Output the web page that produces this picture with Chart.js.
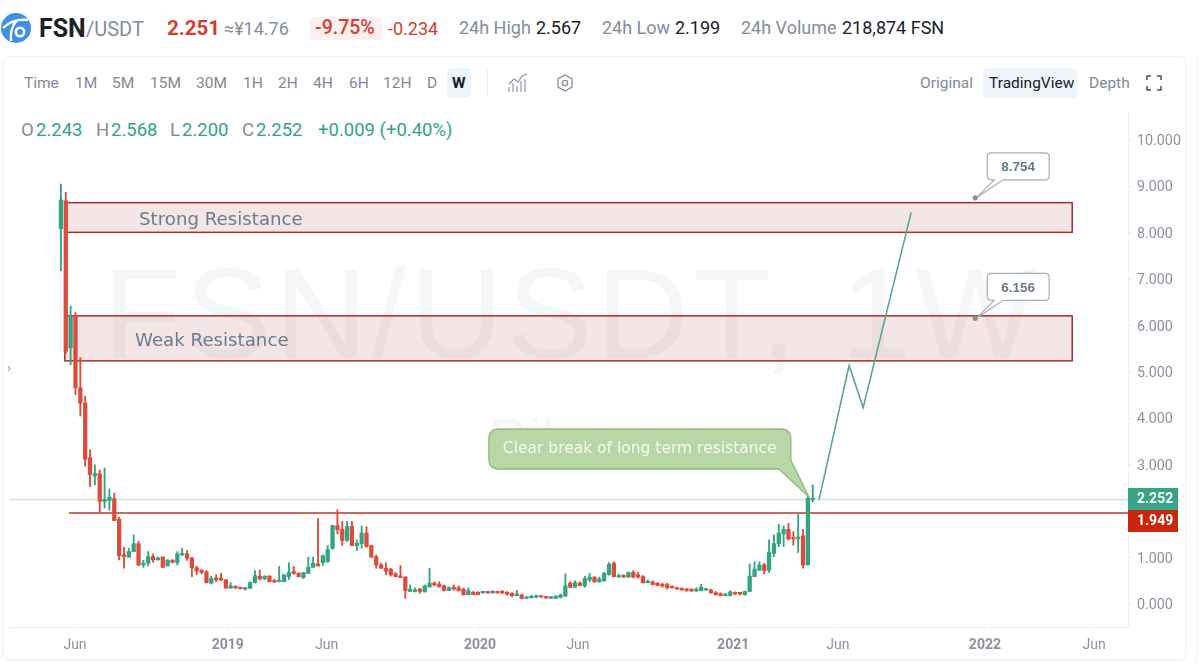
<!DOCTYPE html>
<html lang="en">
<head>
<meta charset="utf-8">
<title>FSN/USDT 1W</title>
<script src="https://cdn.jsdelivr.net/npm/chart.js@4/dist/chart.umd.min.js"></script>
<style>
  html,body{margin:0;padding:0;background:#fff;width:1200px;height:671px;overflow:hidden;font-family:Roboto,"Noto Sans",sans-serif}
  .panel{position:absolute;left:3px;top:56px;width:1183px;height:604px;border:1px solid #eff1f4;border-radius:6px;box-sizing:border-box;box-shadow:0 1px 3px rgba(40,60,90,.05)}
  .edge{position:absolute;left:1196px;top:56px;width:4px;height:604px;border-left:1px solid #eff1f4;background:#fff}
  .t{position:absolute;white-space:nowrap;transform:translateY(-50%);line-height:1}
  .g{color:#838e9b}.k{color:#1b2129}.r{color:#d63c30}.u{color:#33a382}
  .h{font-size:18px}.b{font-size:15.5px;color:#7f8995}.o{font-size:18.5px}
  .on{position:absolute;background:#eff4fb;border-radius:4px}
  #chart{position:absolute;left:0;top:0;z-index:2}
  svg{position:absolute}
</style>
</head>
<body>
<div class="panel"></div><div class="edge"></div>

<svg style="left:1px;top:13px" width="30" height="30" viewBox="0 0 30 30">
  <circle cx="15" cy="15" r="15" fill="#3f8fe2"/>
  <path d="M2 15C8 9 17 6 27 7M16 7C11 13 9 20 10 28" stroke="#fff" stroke-width="2.4" fill="none"/>
  <circle cx="19" cy="19" r="4.2" fill="#3f8fe2" stroke="#fff" stroke-width="2.6"/>
</svg>
<span class="t k" style="left:39px;top:28px;font-size:25px;font-weight:700">FSN</span>
<span class="t g" style="left:86px;top:29px;font-size:20px">/USDT</span>
<span class="t r" style="left:167px;top:28px;font-size:20.5px;font-weight:700">2.251</span>
<span class="t g h" style="left:224px;top:29px">≈¥14.76</span>
<div class="on" style="left:310px;top:17px;width:72px;height:23px;background:#fbf0ef"></div>
<span class="t r" style="left:315px;top:28px;font-size:19.5px;font-weight:500">-9.75%</span>
<span class="t r h" style="left:388px;top:29px">-0.234</span>
<span class="t g h" style="left:459px;top:28px">24h High</span>
<span class="t k h" style="left:536px;top:28px">2.567</span>
<span class="t g h" style="left:602px;top:28px">24h Low</span>
<span class="t k h" style="left:675px;top:28px">2.199</span>
<span class="t g h" style="left:741px;top:28px">24h Volume</span>
<span class="t k h" style="left:842px;top:28px">218,874 FSN</span>

<span class="t b" style="left:24px;top:84px">Time</span>
<span class="t b" style="left:75px;top:84px">1M</span>
<span class="t b" style="left:112px;top:84px">5M</span>
<span class="t b" style="left:150px;top:84px">15M</span>
<span class="t b" style="left:196px;top:84px">30M</span>
<span class="t b" style="left:243px;top:84px">1H</span>
<span class="t b" style="left:278px;top:84px">2H</span>
<span class="t b" style="left:313px;top:84px">4H</span>
<span class="t b" style="left:349px;top:84px">6H</span>
<span class="t b" style="left:383px;top:84px">12H</span>
<span class="t b" style="left:427px;top:84px">D</span>
<div class="on" style="left:447px;top:68px;width:24px;height:30px"></div>
<span class="t k" style="left:452px;top:84px;font-size:15.5px;font-weight:700">W</span>
<div style="position:absolute;left:487px;top:68px;width:1px;height:30px;background:#edf0f3"></div>
<svg style="left:507px;top:73px" width="22" height="20" viewBox="0 0 22 20" fill="none" stroke="#858f9b" stroke-width="1.1">
  <path d="M2 11L7 6L11 9L15 3L20 1"/><path d="M2 19V14M6 19V10M10 19V13M14 19V8M18 19V6"/>
</svg>
<svg style="left:556px;top:74px" width="18" height="18" viewBox="0 0 18 18" fill="none" stroke="#858f9b" stroke-width="1.3">
  <path d="M9 1L16 5V13L9 17L2 13V5Z"/><circle cx="9" cy="9" r="2.7"/>
</svg>
<span class="t b" style="left:920px;top:84px">Original</span>
<div class="on" style="left:983px;top:68px;width:94px;height:30px"></div>
<span class="t k" style="left:989px;top:84px;font-size:15.5px">TradingView</span>
<span class="t b" style="left:1089px;top:84px">Depth</span>
<svg style="left:1146px;top:75px" width="16" height="16" viewBox="0 0 16 16" fill="none" stroke="#4b535e" stroke-width="1.5">
  <path d="M1 5V1H5M11 1H15V5M15 11V15H11M5 15H1V11"/>
</svg>

<span class="t o g" style="left:21px;top:130px">O</span><span class="t o u" style="left:36px;top:130px">2.243</span>
<span class="t o g" style="left:96px;top:130px">H</span><span class="t o u" style="left:111px;top:130px">2.568</span>
<span class="t o g" style="left:170px;top:130px">L</span><span class="t o u" style="left:182px;top:130px">2.200</span>
<span class="t o g" style="left:242px;top:130px">C</span><span class="t o u" style="left:256px;top:130px">2.252</span>
<span class="t o u" style="left:318px;top:130px">+0.009 (+0.40%)</span>
<span class="t g" style="left:7px;top:367px;font-size:13px">›</span>

<canvas id="chart" width="1200" height="671"></canvas>

<script>
/* ================== DATOS ================== */
const openPrices = [
  8.09,8.69,5.52,6.20,4.66,4.33,3.15,2.76,2.81,2.21,
  2.23,2.27,1.83,1.06,1.01,1.13,1.30,0.84,0.88,1.02,
  0.95,1.01,0.82,0.94,0.89,1.06,1.08,0.99,0.78,0.72,
  0.69,0.45,0.56,0.55,0.52,0.34,0.37,0.35,0.32,0.34,
  0.46,0.60,0.54,0.60,0.51,0.48,0.48,0.59,0.70,0.66,
  0.57,0.66,0.79,0.86,0.89,0.91,1.20,1.69,1.61,1.37,
  1.67,1.26,1.30,1.53,1.26,1.02,0.84,0.77,0.75,0.65,
  0.60,0.58,0.27,0.27,0.32,0.26,0.37,0.45,0.43,0.39,
  0.29,0.36,0.35,0.32,0.20,0.25,0.25,0.24,0.25,0.24,
  0.26,0.27,0.25,0.23,0.18,0.19,0.12,0.135,0.145,0.165,
  0.16,0.12,0.12,0.14,0.17,0.45,0.36,0.45,0.39,0.52,
  0.58,0.475,0.50,0.63,0.88,0.58,0.62,0.58,0.68,0.63,
  0.59,0.46,0.475,0.45,0.42,0.42,0.37,0.35,0.34,0.32,
  0.32,0.28,0.29,0.30,0.30,0.245,0.22,0.18,0.18,0.245,
  0.24,0.20,0.27,0.59,0.73,0.84,0.73,1.09,1.30,1.51,
  1.61,1.42,1.41,1.47,0.84,2.243];
const closePrices = [
  8.71,5.45,6.20,4.66,4.33,3.12,2.79,2.81,2.21,2.26,
  2.30,1.80,1.04,1.02,1.13,1.30,0.84,0.88,1.02,0.95,
  0.99,0.79,0.94,0.90,1.08,1.09,0.99,0.78,0.71,0.68,
  0.46,0.55,0.52,0.52,0.34,0.39,0.35,0.33,0.35,0.46,
  0.61,0.54,0.60,0.48,0.475,0.50,0.63,0.68,0.655,0.59,
  0.68,0.79,0.88,0.82,1.04,1.17,1.69,1.60,1.37,1.67,
  1.26,1.31,1.53,1.24,1.01,0.84,0.77,0.71,0.63,0.59,
  0.57,0.29,0.32,0.30,0.27,0.39,0.45,0.41,0.37,0.29,
  0.35,0.32,0.29,0.20,0.29,0.20,0.20,0.25,0.24,0.26,
  0.24,0.24,0.21,0.18,0.22,0.12,0.15,0.165,0.17,0.15,
  0.13,0.16,0.17,0.19,0.39,0.36,0.46,0.40,0.55,0.58,
  0.475,0.54,0.66,0.86,0.59,0.60,0.58,0.68,0.58,0.58,
  0.46,0.49,0.42,0.40,0.39,0.35,0.35,0.32,0.30,0.29,
  0.28,0.32,0.36,0.32,0.24,0.20,0.18,0.21,0.26,0.22,
  0.22,0.27,0.60,0.75,0.84,0.72,1.11,1.30,1.53,1.61,
  1.40,1.40,1.44,0.84,2.28,2.252];
const highPrices = [
  9.05,8.87,6.42,6.28,5.31,4.48,3.33,3.00,2.89,2.93,
  2.48,2.39,1.87,1.22,1.20,1.49,1.35,0.94,1.13,1.08,
  1.01,1.02,0.96,0.96,1.13,1.20,1.15,1.01,0.82,0.75,
  0.72,0.60,0.63,0.66,0.53,0.46,0.39,0.36,0.36,0.48,
  0.72,0.73,0.61,0.61,0.53,0.81,0.63,0.89,0.81,0.68,
  0.68,1.01,1.01,1.84,1.06,1.26,1.69,2.03,1.78,1.78,
  1.78,1.38,1.68,1.67,1.27,1.06,0.88,0.89,0.77,0.68,
  0.83,0.59,0.41,0.35,0.34,0.41,0.77,0.48,0.48,0.41,
  0.37,0.41,0.39,0.34,0.35,0.27,0.27,0.27,0.27,0.29,
  0.27,0.29,0.27,0.245,0.29,0.22,0.16,0.19,0.195,0.17,
  0.165,0.165,0.18,0.22,0.65,0.48,0.50,0.48,0.60,0.66,
  0.59,0.58,0.68,0.89,0.91,0.65,0.63,0.69,0.72,0.68,
  0.61,0.52,0.50,0.46,0.45,0.45,0.39,0.36,0.35,0.34,
  0.33,0.35,0.42,0.34,0.32,0.27,0.24,0.23,0.29,0.26,
  0.25,0.28,0.86,0.91,0.91,0.88,1.38,1.49,1.72,1.68,
  1.74,1.56,1.94,1.61,2.32,2.568];
const lowPrices = [
  7.18,5.40,5.16,4.51,4.05,2.97,2.53,2.57,1.96,2.07,
  2.02,1.80,0.95,0.77,1.01,1.13,0.82,0.79,0.82,0.90,
  0.95,0.79,0.82,0.88,0.84,1.04,0.94,0.59,0.63,0.65,
  0.45,0.43,0.48,0.50,0.34,0.34,0.33,0.32,0.30,0.33,
  0.45,0.52,0.53,0.475,0.46,0.475,0.48,0.53,0.64,0.58,
  0.55,0.65,0.79,0.82,0.83,0.90,1.18,1.51,1.26,1.35,
  1.25,1.15,1.20,1.22,1.00,0.77,0.77,0.63,0.60,0.58,
  0.56,0.12,0.27,0.26,0.23,0.26,0.36,0.39,0.36,0.28,
  0.29,0.30,0.28,0.19,0.19,0.20,0.20,0.23,0.23,0.23,
  0.23,0.22,0.19,0.16,0.18,0.11,0.115,0.13,0.14,0.145,
  0.12,0.115,0.115,0.13,0.16,0.35,0.36,0.39,0.36,0.48,
  0.47,0.475,0.49,0.62,0.58,0.575,0.57,0.57,0.56,0.56,
  0.45,0.455,0.41,0.39,0.36,0.32,0.34,0.315,0.295,0.27,
  0.27,0.27,0.28,0.29,0.23,0.19,0.17,0.17,0.17,0.20,
  0.19,0.19,0.27,0.59,0.72,0.65,0.68,1.02,1.24,1.24,
  1.38,1.27,1.11,0.77,0.84,2.20];

const priceTicks = [0,1,2,3,4,5,6,7,8,9,10];
const dateTickWeeks = [2.9,34.4,54.8,86.4,106.6,138.6,160.2,190.5,213];
const dateTickLabels = ['Jun','2019','Jun','2020','Jun','2021','Jun','2022','Jun'];

// proyección dibujada a mano sobre el gráfico
const forecastWeeks = [156.3,162.5,165.4,175.3];
const forecastPrices = [2.25,5.14,4.23,8.44];

const lastPrice = 2.252;
const supportLevel = 1.96;
const supportStartWeek = 1.65;
const supportLabel = '1.949';
const boxWeeks = [0.8,208.5];
const strongBox = [8.01,8.65];
const weakBox = [5.24,6.21];
const priceNoteWeek = 188.5;
const priceNotes = [8.754,6.156];
const breakoutPoint = [154.2,2.306];

/* ================== VELAS ================== */
const UP = '#33a382', DOWN = '#dc4c3c';
const weekIdx = openPrices.map((_,i)=>i);
const candleColors = weekIdx.map(i=>closePrices[i]>=openPrices[i]?UP:DOWN);
const wickData = weekIdx.map(i=>({x:i,y:[lowPrices[i],highPrices[i]]}));
const bodyData = weekIdx.map(i=>({x:i,y:[openPrices[i],closePrices[i]]}));
const xMin = -10.5, xMax = 220;

/* ================== ANOTACIONES ================== */
const backLayer = {
  id:'backLayer',
  beforeDatasetsDraw(chart){
    const {ctx,scales:{x,y},chartArea:a} = chart;
    ctx.save();
    ctx.beginPath();ctx.rect(a.left,a.top,a.width,a.height);ctx.clip();
    // marca de agua
    ctx.fillStyle = 'rgba(226,229,233,.34)';
    ctx.textBaseline = 'alphabetic';ctx.textAlign = 'left';
    ctx.font = '128px "Liberation Sans",Roboto,sans-serif';
    ctx.letterSpacing = '4px';
    ctx.fillText('FSN/USDT, 1W',103,358);
    ctx.letterSpacing = '0px';
    ctx.font = '60px "Liberation Sans",Roboto,sans-serif';
    ctx.fillText('Bibox',488,460);
    // zonas de resistencia
    [[strongBox,'Strong Resistance',139],[weakBox,'Weak Resistance',135]].forEach(([b,txt,tx])=>{
      const x0=x.getPixelForValue(boxWeeks[0]),x1=x.getPixelForValue(boxWeeks[1]);
      const y0=y.getPixelForValue(b[1]),y1=y.getPixelForValue(b[0]);
      ctx.fillStyle='rgba(180,70,80,.14)';ctx.fillRect(x0,y0,x1-x0,y1-y0);
      ctx.strokeStyle='#a52e2e';ctx.lineWidth=1.5;ctx.strokeRect(x0,y0,x1-x0,y1-y0);
      ctx.fillStyle='#6b7c8f';ctx.font='18.2px "DejaVu Sans",sans-serif';ctx.textBaseline='middle';
      ctx.fillText(txt,tx,(y0+y1)/2+3);
    });
    ctx.restore();
  },
  afterDatasetsDraw(chart){
    const {ctx,scales:{x,y}} = chart;
    ctx.save();
    // burbuja verde
    const tx=x.getPixelForValue(breakoutPoint[0]), ty=y.getPixelForValue(breakoutPoint[1]);
    const bx=tx-320, by=ty-68, bw=302, bh=40;
    ctx.beginPath();
    ctx.moveTo(bx+10,by);ctx.lineTo(bx+bw-10,by);ctx.quadraticCurveTo(bx+bw,by,bx+bw,by+10);
    ctx.lineTo(bx+bw,by+31);ctx.lineTo(tx,ty);ctx.lineTo(bx+bw-12,by+bh);
    ctx.lineTo(bx+10,by+bh);ctx.quadraticCurveTo(bx,by+bh,bx,by+bh-10);
    ctx.lineTo(bx,by+10);ctx.quadraticCurveTo(bx,by,bx+10,by);ctx.closePath();
    ctx.fillStyle='#b7d7a6';ctx.fill();
    ctx.strokeStyle='#8fbb7c';ctx.lineWidth=1.3;ctx.stroke();
    ctx.fillStyle='#f6fbf2';ctx.font='15.5px "DejaVu Sans",sans-serif';
    ctx.textAlign='left';ctx.textBaseline='middle';
    ctx.fillText('Clear break of long term resistance',bx+14,by+bh/2);
    // etiquetas de precio
    priceNotes.forEach(p=>{
      const dx=x.getPixelForValue(priceNoteWeek), dy=y.getPixelForValue(p);
      const nx=dx+12, ny=dy-45, nw=62, nh=27;
      ctx.beginPath();
      ctx.moveTo(nx+4,ny);ctx.lineTo(nx+nw-4,ny);ctx.quadraticCurveTo(nx+nw,ny,nx+nw,ny+4);
      ctx.lineTo(nx+nw,ny+nh-4);ctx.quadraticCurveTo(nx+nw,ny+nh,nx+nw-4,ny+nh);
      ctx.lineTo(nx+16,ny+nh);ctx.lineTo(dx+1,dy);ctx.lineTo(nx+7,ny+nh);ctx.lineTo(nx+4,ny+nh);
      ctx.quadraticCurveTo(nx,ny+nh,nx,ny+nh-4);ctx.lineTo(nx,ny+4);ctx.quadraticCurveTo(nx,ny,nx+4,ny);ctx.closePath();
      ctx.fillStyle='#fff';ctx.fill();
      ctx.strokeStyle='#a6adb5';ctx.lineWidth=1.2;ctx.stroke();
      ctx.fillStyle='#68798c';ctx.font='bold 13.5px "Liberation Sans",sans-serif';
      ctx.textAlign='center';ctx.fillText(p.toFixed(3),nx+nw/2,ny+nh/2+1);
      ctx.fillStyle='#8d9298';ctx.beginPath();ctx.arc(dx,dy,2.6,0,Math.PI*2);ctx.fill();
    });
    // etiquetas del eje de precios
    [[lastPrice.toFixed(3),'#36a585',488],[supportLabel,'#c9260d',510]].forEach(([txt,col,ly])=>{
      ctx.fillStyle=col;ctx.fillRect(1128,ly,50,22);
      ctx.fillStyle='#fff';ctx.font='bold 14px Roboto,sans-serif';ctx.textAlign='left';
      ctx.fillText(txt,1137,ly+11.5);
    });
    ctx.restore();
  }
};

/* ================== GRÁFICO ================== */
new Chart(document.getElementById('chart'),{
  type:'bar',
  data:{datasets:[
    {type:'line',data:[{x:xMin,y:lastPrice},{x:xMax,y:lastPrice}],borderColor:'#c9e5dc',borderWidth:1.5,pointRadius:0,order:5},
    {type:'line',data:[{x:supportStartWeek,y:supportLevel},{x:xMax,y:supportLevel}],borderColor:'#b5392e',borderWidth:1.5,pointRadius:0,order:4},
    {data:wickData,backgroundColor:candleColors,barThickness:1.2,grouped:false,order:3},
    {data:bodyData,backgroundColor:candleColors,barThickness:3.6,minBarLength:1.5,grouped:false,order:2},
    {type:'line',data:forecastWeeks.map((w,i)=>({x:w,y:forecastPrices[i]})),borderColor:'#58a596',borderWidth:1.6,pointRadius:0,tension:0,order:1}
  ]},
  options:{
    responsive:false,animation:false,
    layout:{padding:{left:10,top:110,right:14,bottom:11}},
    plugins:{legend:{display:false},tooltip:{enabled:false}},
    scales:{
      x:{type:'linear',min:xMin,max:xMax,offset:false,
        grid:{display:true,offset:false,drawOnChartArea:false,tickLength:3,tickColor:'#e8ebef'},
        border:{color:'#edf0f3'},
        afterBuildTicks:s=>{s.ticks=dateTickWeeks.map(v=>({value:v}));},
        afterFit:s=>{s.height=33;},
        ticks:{autoSkip:false,maxRotation:0,padding:7,color:'#8c919e',
          font:c=>({family:'Roboto,sans-serif',size:14,weight:/^\d/.test(dateTickLabels[c.index])?'700':'400'}),
          callback:(v,i)=>dateTickLabels[i]}},
      y:{type:'linear',position:'right',min:-0.496,max:10.647,
        grid:{display:true,drawOnChartArea:false,tickLength:4,tickColor:'#e8ebef'},
        border:{color:'#edf0f3'},
        afterBuildTicks:s=>{s.ticks=priceTicks.map(v=>({value:v}));},
        afterFit:s=>{s.width=58;},
        ticks:{color:'#8c919e',padding:5,labelOffset:1.5,font:{family:'Roboto,sans-serif',size:14.3},callback:v=>v.toFixed(3)}}
    }
  },
  plugins:[backLayer]
});
</script>
</body>
</html>
